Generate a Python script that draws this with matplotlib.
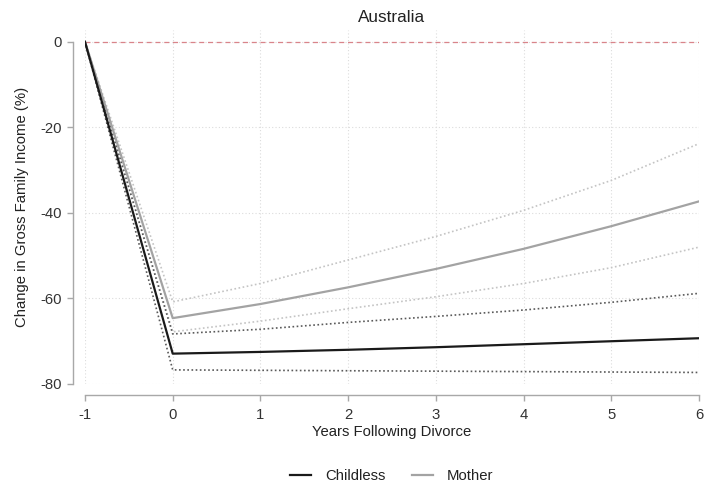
import matplotlib
matplotlib.use("Agg")
import matplotlib.pyplot as plt
import numpy as np

plt.rcParams['font.family'] = ['Liberation Sans', 'DejaVu Sans']
plt.rcParams['axes.unicode_minus'] = False

years = [-1, 0, 1, 2, 3, 4, 5, 6]
childless_mean = [0, -72.9, -72.5, -72.0, -71.4, -70.7, -70.0, -69.3]
childless_upper = [0, -68.3, -67.2, -65.6, -64.2, -62.7, -60.9, -58.8]
childless_lower = [0, -76.7, -76.8, -76.9, -77.0, -77.1, -77.2, -77.3]
mother_mean = [0, -64.6, -61.3, -57.4, -53.1, -48.4, -43.1, -37.3]
mother_upper = [0, -60.8, -56.5, -51.0, -45.5, -39.4, -32.4, -23.8]
mother_lower = [0, -67.8, -65.3, -62.4, -59.6, -56.5, -52.8, -48.0]
xticks = [-1, 0, 1, 2, 3, 4, 5, 6]
yticks = [0, -20, -40, -60, -80]

fig = plt.figure(figsize=(7.08, 4.86), dpi=100)
W, H = 708, 486
left, right = 85 / W, 699 / W
bottom, top = 1 - 384 / H, 1 - 30.3 / H
ax = fig.add_axes([left, bottom, right - left, top - bottom])

ax.set_xlim(-1, 6)
ax.set_ylim(-80, 2.7)

gridc = '#dcdcdc'
for x in xticks:
    ax.axvline(x, color=gridc, lw=0.8, ls=(0, (1, 2)), zorder=0)
for y in yticks:
    ax.axhline(y, color=gridc, lw=0.8, ls=(0, (1, 2)), zorder=0)

ax.axhline(0, color='#d9848a', lw=0.9, ls=(0, (4, 3)), zorder=1)

ax.plot(years, mother_upper, color='#c4c4c4', lw=1.2, ls=(0, (1, 1.5)), zorder=2)
ax.plot(years, mother_lower, color='#c4c4c4', lw=1.2, ls=(0, (1, 1.5)), zorder=2)
ax.plot(years, childless_upper, color='#5a5a5a', lw=1.2, ls=(0, (1, 1.5)), zorder=2)
ax.plot(years, childless_lower, color='#5a5a5a', lw=1.2, ls=(0, (1, 1.5)), zorder=2)
l2, = ax.plot(years, mother_mean, color='#a3a3a3', lw=1.6, zorder=3, label='Mother')
l1, = ax.plot(years, childless_mean, color='#1a1a1a', lw=1.6, zorder=4, label='Childless')

for s in ['top', 'right']:
    ax.spines[s].set_visible(False)
ax.spines['left'].set_position(('outward', 8.5))
ax.spines['bottom'].set_position(('outward', 8))
ax.spines['left'].set_bounds(-80, 0)
ax.spines['bottom'].set_bounds(-1, 6)
for s in ['left', 'bottom']:
    ax.spines[s].set_color('#a8a8a8')
    ax.spines[s].set_linewidth(1.0)

ax.set_xticks(xticks)
ax.set_yticks(yticks)
ax.set_yticklabels([str(v) for v in yticks])
ax.set_xticklabels([str(v) for v in xticks])
ax.tick_params(axis='both', colors='#a8a8a8', labelcolor='#333333', labelsize=10.7, length=4.5, width=1.0)
ax.tick_params(axis='x', pad=5)

ax.set_xlabel('Years Following Divorce', fontsize=10.7, color='#222222', labelpad=2)
ax.set_ylabel('Change in Gross Family Income (%)', fontsize=10.7, color='#222222', labelpad=8)
ax.set_title('Australia', fontsize=12.3, color='#222222', pad=6)

fig.legend(handles=[l1, l2], labels=['Childless', 'Mother'], loc='center',
           bbox_to_anchor=(392 / W, 1 - 476 / H), ncol=2, frameon=False,
           fontsize=10.7, handlelength=1.4, handletextpad=0.95, columnspacing=1.8,
           labelcolor='#222222')

fig.savefig('out.png', dpi=100)
